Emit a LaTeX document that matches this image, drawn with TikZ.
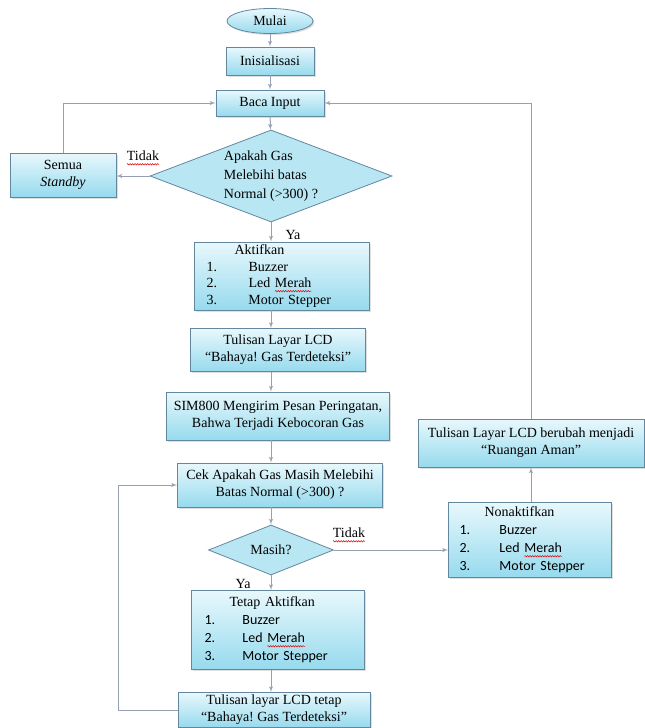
\documentclass[tikz,border=0pt]{standalone}
\usepackage{fontspec}
\setmainfont{Liberation Serif}
\newfontfamily\calibri{Carlito}
\usetikzlibrary{shapes,arrows,shadows,decorations.pathmorphing}
\frenchspacing

\definecolor{boxline}{RGB}{100,135,160}
\definecolor{boxtop}{RGB}{232,248,252}
\definecolor{boxbot}{RGB}{150,218,238}
\definecolor{diafill}{RGB}{185,230,243}
\definecolor{arrowgray}{RGB}{150,160,178}

% wavy red underline (spell check marks)
\newlength\salahlen
\newcommand\salah[1]{\settowidth\salahlen{#1}\tikz[overlay,baseline=0pt]\draw[red!85!black, line width=0.5pt, decorate, decoration={snake, amplitude=0.7pt, segment length=2.5pt}] (0pt,-3.5pt) -- (\salahlen,-3.5pt);#1}

\tikzset{
	kotak/.style={draw=boxline, line width=0.8pt, top color=boxtop, bottom color=boxbot,
		drop shadow={opacity=0.25, shadow xshift=1.5pt, shadow yshift=-1.5pt},
		inner sep=0pt, align=center, font=\fontsize{14}{17}\selectfont},
	daftar/.style={kotak, align=left, inner xsep=12pt},
	belah/.style={diamond, draw=boxline, line width=0.8pt, fill=diafill, inner sep=0pt,
		shape aspect=2.6, align=left, font=\fontsize{14}{19}\selectfont},
	panah/.style={draw=arrowgray, line width=1pt, -latex'},
	ket/.style={font=\fontsize{14}{16}\selectfont}
}

\begin{document}
\begin{tikzpicture}[x=1pt, y=-1pt]
	\fill[white] (0,0) rectangle (645,728);
	\useasboundingbox (0,0) rectangle (645,728);
	
	\node[kotak, ellipse, minimum width=86pt, minimum height=25pt] (mulai) at (270,21) {Mulai};
	\node[kotak, minimum width=88pt, minimum height=28pt] (init) at (270,61) {Inisialisasi};
	\node[kotak, minimum width=108pt, minimum height=26pt] (baca) at (270,103) {Baca Input};
	\node[belah, minimum width=242pt, minimum height=92pt] (cekgas) at (271,176) {Apakah Gas\\Melebihi batas\\Normal (>300) ?};
	\node[kotak, minimum width=106pt, minimum height=44pt] (standby) at (63,175) {Semua\\\textit{Standby}};
	
	\node[daftar, text width=151pt, inner xsep=12pt, minimum height=68pt, font=\fontsize{14}{16.5}\selectfont] (aktif) at (282,276)
		{\hspace*{28pt}Aktifkan\\\makebox[42pt][l]{1.}Buzzer\\\makebox[42pt][l]{2.}Led \salah{Merah}\\\makebox[42pt][l]{3.}Motor Stepper};
	\node[kotak, minimum width=175pt, minimum height=43pt] (lcd1) at (278,350) {Tulisan Layar LCD\\``Bahaya! Gas Terdeteksi''};
	\node[kotak, minimum width=223pt, minimum height=48pt] (sim) at (278,416) {SIM800 Mengirim Pesan Peringatan,\\Bahwa Terjadi Kebocoran Gas};
	\node[kotak, minimum width=205pt, minimum height=44pt] (cek) at (280,485) {Cek Apakah Gas Masih Melebihi\\Batas Normal (>300) ?};
	\node[belah, minimum width=125pt, minimum height=50pt] (masih) at (271,550) {Masih?};
	\node[daftar, text width=147pt, inner xsep=13pt, minimum height=79pt, font=\fontsize{14}{18}\selectfont] (tetap) at (278,630)
		{\hspace*{25pt}Tetap Aktifkan\\\calibri\makebox[38pt][l]{1.}Buzzer\\\makebox[38pt][l]{2.}Led \salah{Merah}\\\makebox[38pt][l]{3.}Motor Stepper};
	\node[kotak, minimum width=192pt, minimum height=35pt] (lcd2) at (274,710) {Tulisan layar LCD tetap\\``Bahaya! Gas Terdeteksi''};
	
	\node[daftar, text width=141pt, inner xsep=11pt, minimum height=75pt, font=\fontsize{14}{18}\selectfont] (nonaktif) at (530,540)
		{\hspace*{25pt}Nonaktifkan\\\calibri\makebox[40pt][l]{1.}Buzzer\\\makebox[40pt][l]{2.}Led \salah{Merah}\\\makebox[40pt][l]{3.}Motor Stepper};
	\node[kotak, minimum width=226pt, minimum height=48pt] (ruang) at (531,443) {Tulisan Layar LCD berubah menjadi\\``Ruangan Aman''};
	
	\node[ket] (tidak1) at (143,156) {\salah{Tidak}};
	\node[ket] (ya1) at (293,235) {Ya};
	\node[ket] (tidak2) at (349,533) {\salah{Tidak}};
	\node[ket] (ya2) at (243,584) {Ya};
	\coordinate (kiri) at (118,710);
	
	\draw[panah] (mulai) -- (init);
	\draw[panah] (init) -- (baca);
	\draw[panah] (baca) -- (cekgas);
	\draw[panah] (cekgas.west) -- (cekgas.west -| standby.east);
	\draw[panah] (standby.north) |- (baca.west);
	\draw[panah] (cekgas.south) -- (cekgas.south |- aktif.north);
	\draw[panah] (aktif.south -| cekgas) -- (lcd1.north -| cekgas);
	\draw[panah] (lcd1.south -| cekgas) -- (sim.north -| cekgas);
	\draw[panah] (sim.south -| cekgas) -- (cek.north -| cekgas);
	\draw[panah] (cek.south -| masih) -- (masih.north);
	\draw[panah] (masih.south) -- (tetap.north -| masih);
	\draw[panah] (tetap.south -| masih) -- (lcd2.north -| masih);
	\draw[panah] (lcd2.west) -- (kiri) |- (cek.west);
	\draw[panah] (masih.east) -- (masih.east -| nonaktif.west);
	\draw[panah] (nonaktif.north -| ruang) -- (ruang.south);
	\draw[panah] (ruang.north) |- (baca.east);
\end{tikzpicture}
\end{document}
